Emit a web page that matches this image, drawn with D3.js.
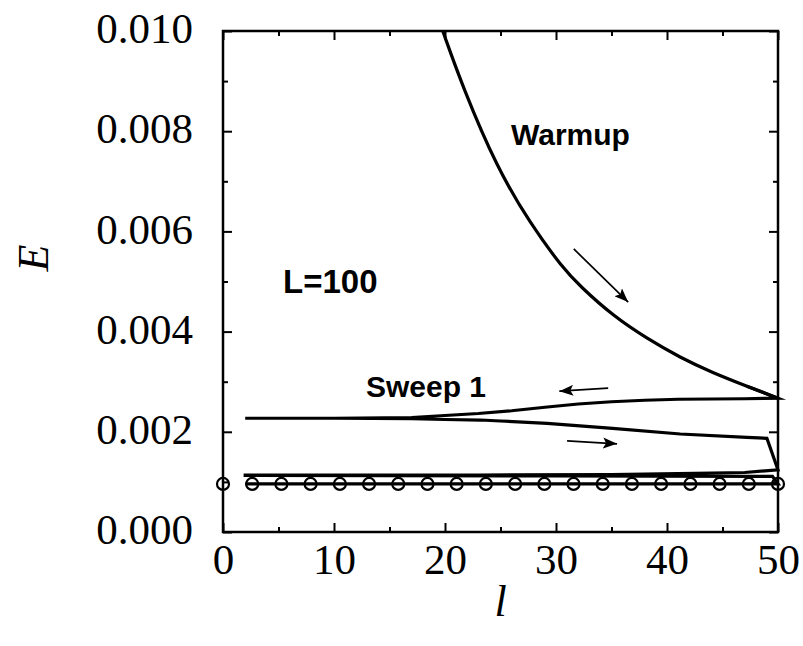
<!DOCTYPE html>
<html>
<head>
<meta charset="utf-8">
<script src="https://cdn.jsdelivr.net/npm/d3@7/dist/d3.min.js"></script>
<style>
  html, body { margin: 0; padding: 0; background: #fff; }
  svg { display: block; }
</style>
</head>
<body>
<svg id="chart" width="803" height="646"></svg>
<script>
// Energy error E versus site position l during DMRG sweeps (L = 100)

// Warmup curve
const warmupL = [19.8, 21.6, 24.7, 27.7, 30.6, 32.2, 35.1, 38.2, 41.2, 44.1, 47.2, 50.0];
const warmupE = [0.01000, 0.00888, 0.00726, 0.00615, 0.00527, 0.00490, 0.00432, 0.00386, 0.00348, 0.00318, 0.00291, 0.00267];

// Sweep 1, right-to-left half
const sweep1LeftL = [50, 47, 44, 41, 38, 35, 32, 29, 26, 23, 20, 17, 10, 2];
const sweep1LeftE = [0.00267, 0.00266, 0.002655, 0.00265, 0.00263, 0.00260, 0.002555, 0.00249, 0.00242, 0.002365, 0.002325, 0.002285, 0.00227, 0.00227];

// Sweep 1, left-to-right half
const sweep1RightL = [2, 10, 17, 20, 23.2, 25, 29.2, 35.1, 41.2, 47.2, 49.0, 50];
const sweep1RightE = [0.00227, 0.00227, 0.00226, 0.002245, 0.002235, 0.002216, 0.00217, 0.00207, 0.001956, 0.00189, 0.00187, 0.00124];

// Sweep 2, right-to-left half
const sweep2LeftL = [50, 47, 41, 35, 23, 2];
const sweep2LeftE = [0.001224, 0.001188, 0.001164, 0.001148, 0.001138, 0.001138];

// Sweep 2, left-to-right half
const sweep2RightL = [2, 30, 49.5, 50];
const sweep2RightE = [0.00113, 0.00112, 0.00111, 0.00096];

// Sweep 3
const sweep3L = [50, 25, 2];
const sweep3E = [0.00096, 0.00096, 0.00096];

// Exact reference values (open circles)
const exactL = [0, 2.63, 5.26, 7.89, 10.53, 13.16, 15.79, 18.42, 21.05, 23.68, 26.32, 28.95, 31.58, 34.21, 36.84, 39.47, 42.11, 44.74, 47.37, 50];
const exactE = [0.00096, 0.00096, 0.00096, 0.00096, 0.00096, 0.00096, 0.00096, 0.00096, 0.00096, 0.00096, 0.00096, 0.00096, 0.00096, 0.00096, 0.00096, 0.00096, 0.00096, 0.00096, 0.00096, 0.00096];

// Axis ticks
const xMajorTicks = [0, 10, 20, 30, 40, 50];
const xMinorTicks = [5, 15, 25, 35, 45];
const yMajorTicks = [0, 0.002, 0.004, 0.006, 0.008, 0.010];
const yMinorTicks = [0.001, 0.003, 0.005, 0.007, 0.009];

// Direction arrows (start l, start E, end l, end E)
const arrowFromL = [31.6, 34.7, 31.0];
const arrowFromE = [0.00565, 0.00287, 0.00182];
const arrowToL = [36.5, 30.3, 35.5];
const arrowToE = [0.00459, 0.00281, 0.00176];

// Text annotations
const noteText = ["Warmup", "L=100", "Sweep 1"];
const noteL = [25.95, 5.41, 12.88];
const noteE = [0.007725, 0.00477, 0.00269];
const noteSize = [30, 33, 30];

const svg = d3.select("#chart");
const padLeft = 223, padRight = 778, padTop = 31, padBottom = 532;

const x = d3.scaleLinear().domain([0, 50]).range([padLeft, padRight]);
const y = d3.scaleLinear().domain([0, 0.010]).range([padBottom, padTop]);

const serif = "'Liberation Serif', 'Times New Roman', serif";
const sans = "'Liberation Sans', Arial, Helvetica, sans-serif";

svg.append("defs").append("marker")
  .attr("id", "head")
  .attr("viewBox", "0 0 14 11")
  .attr("refX", 14).attr("refY", 5.5)
  .attr("markerWidth", 14).attr("markerHeight", 11)
  .attr("markerUnits", "userSpaceOnUse")
  .attr("orient", "auto")
  .append("path").attr("d", "M0,0 L14,5.5 L0,11 L3,5.5 Z").attr("fill", "#000");

// Ticks drawn inward on all four sides
function styleAxis(g) {
  g.select(".domain").remove();
  g.selectAll(".tick line").attr("stroke", "#000").attr("stroke-width", 2);
}

const majorSize = 9, minorSize = 5;
svg.append("g").attr("transform", `translate(0,${padBottom})`)
  .call(d3.axisBottom(x).tickValues(xMajorTicks).tickSize(-majorSize).tickFormat(d3.format("d")))
  .call(styleAxis)
  .call(g => g.selectAll(".tick text").attr("font-family", serif).attr("font-size", 43).attr("fill", "#000").attr("y", 11).attr("dy", "0.71em"));
svg.append("g").attr("transform", `translate(0,${padBottom})`)
  .call(d3.axisBottom(x).tickValues(xMinorTicks).tickSize(-minorSize).tickFormat(""))
  .call(styleAxis);
svg.append("g").attr("transform", `translate(0,${padTop})`)
  .call(d3.axisTop(x).tickValues(xMajorTicks).tickSize(-majorSize).tickFormat(""))
  .call(styleAxis);
svg.append("g").attr("transform", `translate(0,${padTop})`)
  .call(d3.axisTop(x).tickValues(xMinorTicks).tickSize(-minorSize).tickFormat(""))
  .call(styleAxis);

svg.append("g").attr("transform", `translate(${padLeft},0)`)
  .call(d3.axisLeft(y).tickValues(yMajorTicks).tickSize(-majorSize).tickFormat(d3.format(".3f")))
  .call(styleAxis)
  .call(g => g.selectAll(".tick text").attr("font-family", serif).attr("font-size", 43).attr("fill", "#000").attr("x", -30).attr("dy", "0.27em"));
svg.append("g").attr("transform", `translate(${padLeft},0)`)
  .call(d3.axisLeft(y).tickValues(yMinorTicks).tickSize(-minorSize).tickFormat(""))
  .call(styleAxis);
svg.append("g").attr("transform", `translate(${padRight},0)`)
  .call(d3.axisRight(y).tickValues(yMajorTicks).tickSize(-majorSize).tickFormat(""))
  .call(styleAxis);
svg.append("g").attr("transform", `translate(${padRight},0)`)
  .call(d3.axisRight(y).tickValues(yMinorTicks).tickSize(-minorSize).tickFormat(""))
  .call(styleAxis);

// Frame
svg.append("rect")
  .attr("x", padLeft).attr("y", padTop)
  .attr("width", padRight - padLeft).attr("height", padBottom - padTop)
  .attr("fill", "none").attr("stroke", "#000").attr("stroke-width", 2.5);

// Curves
const zip = (ls, es) => ls.map((l, i) => [l, es[i]]);
const smooth = d3.line().x(d => x(d[0])).y(d => y(d[1])).curve(d3.curveBasis);
const poly = d3.line().x(d => x(d[0])).y(d => y(d[1]));

const plot = svg.append("g").attr("fill", "none").attr("stroke", "#000")
  .attr("stroke-width", 3.2).attr("stroke-linejoin", "miter").attr("stroke-miterlimit", 10);

plot.append("path").attr("d", smooth(zip(warmupL, warmupE)));

// The sweeps follow on from the end of the warmup as one continuous trace
const n = warmupL.length;
const history = zip(warmupL.slice(n - 2), warmupE.slice(n - 2))
  .concat(zip(sweep1LeftL, sweep1LeftE).slice(1))
  .concat(zip(sweep1RightL, sweep1RightE).slice(1))
  .concat(zip(sweep2LeftL, sweep2LeftE).slice(1))
  .concat(zip(sweep2RightL, sweep2RightE))
  .concat(zip(sweep3L, sweep3E).slice(1));
plot.append("path").attr("d", poly(history));

// Exact values
svg.append("g").selectAll("circle")
  .data(zip(exactL, exactE))
  .join("circle")
  .attr("cx", d => x(d[0])).attr("cy", d => y(d[1]))
  .attr("r", 6)
  .attr("fill", "none").attr("stroke", "#000").attr("stroke-width", 2.2);

// Arrows
svg.append("g").selectAll("line")
  .data(arrowFromL.map((l, i) => i))
  .join("line")
  .attr("x1", i => x(arrowFromL[i])).attr("y1", i => y(arrowFromE[i]))
  .attr("x2", i => x(arrowToL[i])).attr("y2", i => y(arrowToE[i]))
  .attr("stroke", "#000").attr("stroke-width", 1.7)
  .attr("marker-end", "url(#head)");

// Annotations
svg.append("g").selectAll("text")
  .data(noteText.map((t, i) => i))
  .join("text")
  .attr("x", i => x(noteL[i])).attr("y", i => y(noteE[i]))
  .attr("font-family", sans).attr("font-weight", "bold").attr("font-size", i => noteSize[i])
  .attr("fill", "#000")
  .text(i => noteText[i]);

// Axis titles
svg.append("text")
  .attr("x", (padLeft + padRight) / 2).attr("y", 616)
  .attr("text-anchor", "middle")
  .attr("font-family", serif).attr("font-style", "italic").attr("font-size", 44)
  .text("l");
svg.append("text")
  .attr("transform", "translate(48,258) rotate(-90)")
  .attr("text-anchor", "middle")
  .attr("font-family", serif).attr("font-style", "italic").attr("font-size", 44)
  .text("E");
</script>
</body>
</html>
